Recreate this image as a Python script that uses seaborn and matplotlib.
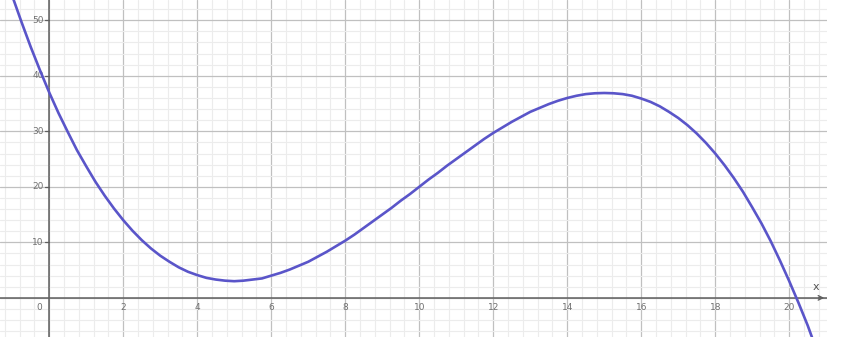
import numpy as np
import pandas as pd
import matplotlib
matplotlib.use("Agg")
import matplotlib.pyplot as plt
import seaborn as sns
from matplotlib.ticker import MultipleLocator

# Curve samples (every 0.25 on x)
x_vals = [-1.5, -1.25, -1.0, -0.75, -0.5, -0.25, 0.0, 0.25, 0.5, 0.75, 1.0, 1.25,
          1.5, 1.75, 2.0, 2.25, 2.5, 2.75, 3.0, 3.25, 3.5, 3.75, 4.0, 4.25,
          4.5, 4.75, 5.0, 5.25, 5.5, 5.75, 6.0, 6.25, 6.5, 6.75, 7.0, 7.25,
          7.5, 7.75, 8.0, 8.25, 8.5, 8.75, 9.0, 9.25, 9.5, 9.75, 10.0, 10.25,
          10.5, 10.75, 11.0, 11.25, 11.5, 11.75, 12.0, 12.25, 12.5, 12.75, 13.0, 13.25,
          13.5, 13.75, 14.0, 14.25, 14.5, 14.75, 15.0, 15.25, 15.5, 15.75, 16.0, 16.25,
          16.5, 16.75, 17.0, 17.25, 17.5, 17.75, 18.0, 18.25, 18.5, 18.75, 19.0, 19.25,
          19.5, 19.75, 20.0, 20.25, 20.5, 20.75, 21.0]
y_vals = [64.8, 59.4, 54.4, 49.7, 45.2, 41.0, 37.0, 33.3, 29.9, 26.6, 23.7, 20.9,
          18.4, 16.1, 14.0, 12.1, 10.4, 8.9, 7.6, 6.5, 5.5, 4.7, 4.1, 3.6,
          3.3, 3.1, 3.0, 3.1, 3.3, 3.5, 4.0, 4.5, 5.1, 5.8, 6.5, 7.4,
          8.3, 9.3, 10.3, 11.4, 12.6, 13.8, 15.0, 16.2, 17.5, 18.7, 20.0, 21.3,
          22.5, 23.8, 25.0, 26.2, 27.4, 28.6, 29.7, 30.7, 31.7, 32.6, 33.5, 34.2,
          34.9, 35.5, 36.0, 36.4, 36.7, 36.85, 36.9, 36.85, 36.7, 36.4, 35.9, 35.3,
          34.5, 33.5, 32.4, 31.1, 29.6, 27.9, 26.0, 23.9, 21.6, 19.1, 16.3, 13.4,
          10.2, 6.7, 3.0, -0.9, -5.0, -9.6, -14.4]

x_ticks = [2, 4, 6, 8, 10, 12, 14, 16, 18, 20]
y_ticks = [10, 20, 30, 40, 50]

df = pd.DataFrame({"x": x_vals, "y": y_vals})

sns.set_theme(style="white")
plt.rcParams['font.family'] = ['DejaVu Sans']

W, H = 842, 346
fig = plt.figure(figsize=(W / 100, H / 100), dpi=100)
ax = fig.add_axes([0, (H - 337) / H, 827 / W, 337 / H])

xmin, xmax = -1.33, 21.02
ymin, ymax = -7.05, 53.65
ax.set_xlim(xmin, xmax)
ax.set_ylim(ymin, ymax)

ax.xaxis.set_major_locator(MultipleLocator(2))
ax.xaxis.set_minor_locator(MultipleLocator(0.4))
ax.yaxis.set_major_locator(MultipleLocator(10))
ax.yaxis.set_minor_locator(MultipleLocator(2))
ax.grid(which="minor", color="#ececec", linewidth=0.8)
ax.grid(which="major", color="#c0c0c0", linewidth=0.9)
ax.set_axisbelow(True)
ax.tick_params(which="both", length=0, labelbottom=False, labelleft=False)
for s in ax.spines.values():
    s.set_visible(False)

# axes lines
ax.axhline(0, color="#606060", linewidth=1.1, zorder=2)
ax.axvline(0, color="#606060", linewidth=1.1, zorder=2)
ax.annotate("", xy=(xmax, 0), xytext=(xmax - 0.3, 0),
            arrowprops=dict(arrowstyle="->", color="#606060", lw=1.0, mutation_scale=8),
            annotation_clip=False)
ax.text(xmax - 0.3, 1.1, "x", fontsize=8, color="#555555", ha="center", va="bottom")

# tick labels inside the plot
lab_col = "#707070"
for t in x_ticks:
    ax.text(t, -1.0, str(t), fontsize=6.5, color=lab_col, ha="center", va="top")
ax.text(-0.2, -1.0, "0", fontsize=6.5, color=lab_col, ha="right", va="top")
for t in y_ticks:
    ax.text(-0.15, t, str(t), fontsize=6.5, color=lab_col, ha="right", va="center")
    ax.plot([-0.12, 0], [t, t], color="#606060", linewidth=0.9, zorder=2)

sns.lineplot(data=df, x="x", y="y", ax=ax, color="#5a55c9", linewidth=1.9, zorder=3)
ax.set_xlabel("")
ax.set_ylabel("")

fig.savefig("out.png", dpi=100, facecolor="white")
